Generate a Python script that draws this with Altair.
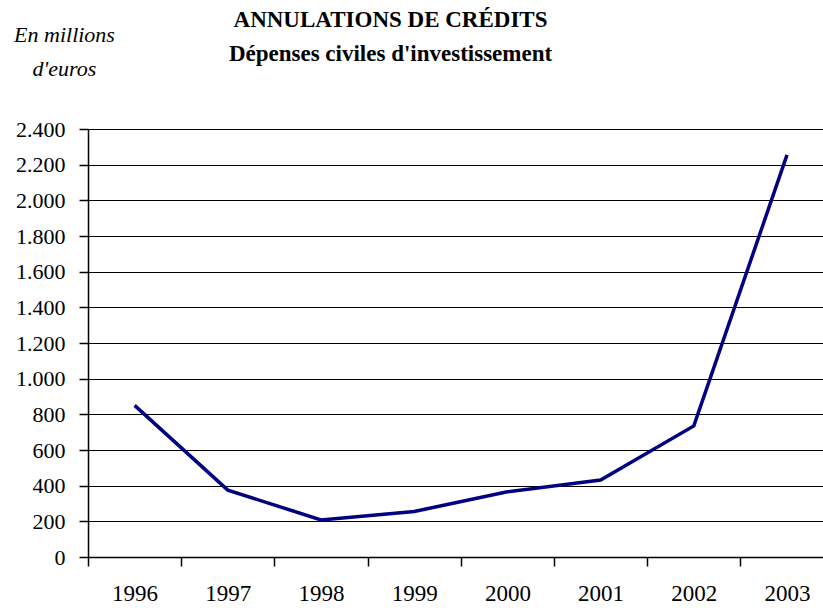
import altair as alt
import pandas as pd

years = [1996, 1997, 1998, 1999, 2000, 2001, 2002, 2003]
values = [850, 375, 208, 255, 366, 432, 735, 2255]
y_ticks = [0, 200, 400, 600, 800, 1000, 1200, 1400, 1600, 1800, 2000, 2200, 2400]
x_ticks = [1995.5, 1996.5, 1997.5, 1998.5, 1999.5, 2000.5, 2001.5, 2002.5]

df = pd.DataFrame({"year": years, "value": values})

FONT = "Liberation Serif, Times New Roman, DejaVu Serif, serif"

chart = alt.Chart(df).mark_line(color="#000080", strokeWidth=3.5).encode(
    x=alt.X(
        "year:Q",
        scale=alt.Scale(domain=[1995.5, 2003.386], nice=False, zero=False),
        axis=alt.Axis(
            values=x_ticks,
            title=None,
            grid=False,
            domainColor="black",
            domainWidth=1.5,
            tickColor="black",
            tickWidth=1.5,
            tickSize=9,
            labelOffset=46.6,
            labelFlush=False,
            labelOverlap=False,
            labelExpr="'' + (floor(datum.value) + 1)",
            labelFont=FONT,
            labelFontSize=23,
            labelColor="black",
            labelPadding=16,
            labelBaseline="top",
        ),
    ),
    y=alt.Y(
        "value:Q",
        scale=alt.Scale(domain=[0, 2400], nice=False),
        axis=alt.Axis(
            values=y_ticks,
            title=["En millions", "d'euros"],
            titleAngle=0,
            titleFont=FONT,
            titleFontStyle="italic",
            titleFontWeight="normal",
            titleFontSize=22,
            titleColor="black",
            titleAlign="center",
            titleBaseline="alphabetic",
            titleX=-24,
            titleY=-88,
            titleLineHeight=34,
            grid=True,
            gridColor="black",
            gridWidth=1,
            domainColor="black",
            domainWidth=1.5,
            tickColor="black",
            tickWidth=1.5,
            tickSize=9,
            labelExpr="replace(format(datum.value, ','), ',', '.')",
            labelFont=FONT,
            labelFontSize=22,
            labelColor="black",
            labelPadding=14,
        ),
    ),
).properties(
    width=735,
    height=428,
    padding={"left": 88, "top": 129, "right": 0, "bottom": 51},
    autosize=alt.AutoSizeParams(type="none"),
    title=alt.TitleParams(
        text=["ANNULATIONS DE CRÉDITS", "Dépenses civiles d'investissement"],
        font=FONT,
        fontSize=23,
        fontWeight="bold",
        color="black",
        anchor="middle",
        dx=-65,
        dy=43,
        lineHeight=34,
        offset=0,
    ),
).configure_view(stroke=None)

chart.save("out.html", embed_options={"renderer": "svg", "actions": False})
